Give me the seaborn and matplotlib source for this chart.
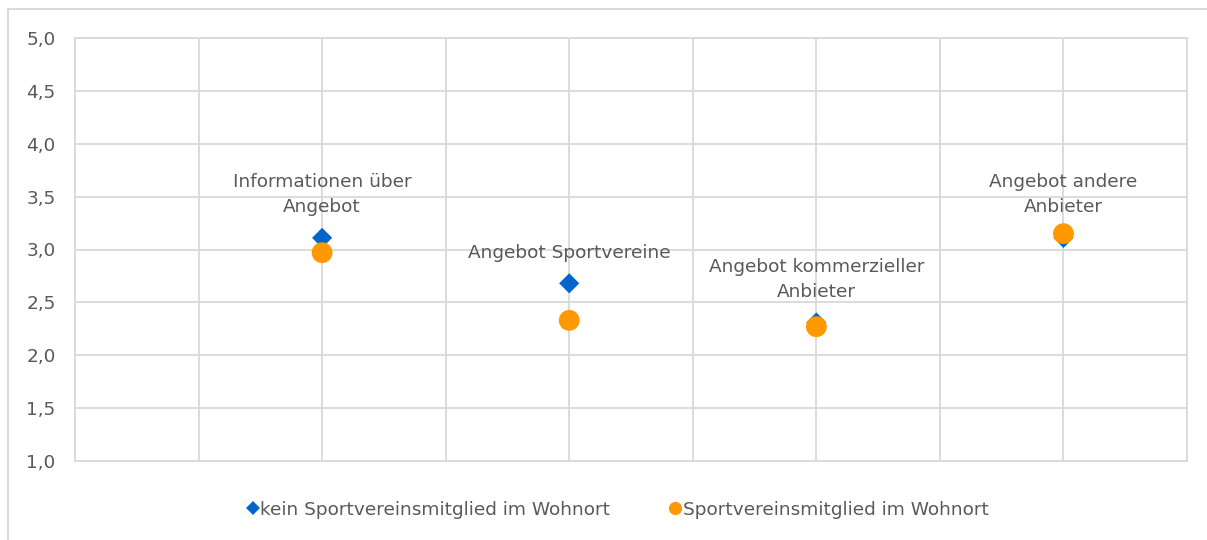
import matplotlib
matplotlib.use("Agg")
import matplotlib.pyplot as plt
from matplotlib.lines import Line2D
import pandas as pd
import seaborn as sns

# Survey items (x positions on a 0..4.5 category axis) and mean ratings
items = ["Informationen über\nAngebot", "Angebot Sportvereine",
         "Angebot kommerzieller\nAnbieter", "Angebot andere\nAnbieter"]
positions = [1, 2, 3, 4]
non_members = [3.11, 2.68, 2.31, 3.11]
members = [2.97, 2.33, 2.27, 3.15]
series_names = ["kein Sportvereinsmitglied im Wohnort",
                "Sportvereinsmitglied im Wohnort"]
y_ticks = [1.0, 1.5, 2.0, 2.5, 3.0, 3.5, 4.0, 4.5, 5.0]

blue = "#0066CC"
orange = "#FF9900"
text_col = "#595959"
grid_col = "#D9D9D9"
fs = 13.3

sns.set_theme(style="white")
plt.rcParams["font.family"] = ["DejaVu Sans"]

df = pd.DataFrame({
    "pos": positions * 2,
    "wert": non_members + members,
    "gruppe": [series_names[0]] * 4 + [series_names[1]] * 4,
})

fig = plt.figure(figsize=(12.07, 5.40), dpi=100)
ax = fig.add_axes([75 / 1207, 1 - 461 / 540, (1187 - 75) / 1207, (461 - 38) / 540])

sns.scatterplot(data=df[df.gruppe == series_names[0]], x="pos", y="wert",
                marker="D", s=105, color=blue, edgecolor="none",
                ax=ax, legend=False, zorder=3)
sns.scatterplot(data=df[df.gruppe == series_names[1]], x="pos", y="wert",
                marker="o", s=225, color=orange, edgecolor="none",
                ax=ax, legend=False, zorder=4)

ax.set_xlim(0, 4.5)
ax.set_ylim(1.0, 5.0)
ax.set_xticks([i * 0.5 for i in range(10)])
ax.set_yticks(y_ticks)
ax.set_yticklabels([f"{v:.1f}".replace(".", ",") for v in y_ticks],
                   fontsize=fs, color=text_col)
ax.tick_params(axis="x", labelbottom=False, length=0)
ax.tick_params(axis="y", length=0, pad=14)
ax.grid(True, color=grid_col, linewidth=1.3)
ax.set_axisbelow(True)
for sp in ax.spines.values():
    sp.set_visible(True)
    sp.set_color(grid_col)
    sp.set_linewidth(1.3)
ax.set_xlabel("")
ax.set_ylabel("")

# Item labels placed above the non-member points
for x, y, lab in zip(positions, non_members, items):
    ax.annotate(lab, (x, y), xytext=(0, 15.5), textcoords="offset points",
                ha="center", va="bottom", fontsize=fs, color=text_col,
                linespacing=1.5, zorder=5)

handles = [
    Line2D([], [], marker="D", color=blue, linestyle="none", markersize=7,
           markeredgewidth=0),
    Line2D([], [], marker="o", color=orange, linestyle="none", markersize=9.5,
           markeredgewidth=0),
]
fig.legend(handles, series_names, loc="center", bbox_to_anchor=(0.512, 0.056),
           ncol=2, frameon=False, fontsize=fs, labelcolor=text_col,
           handlelength=0.6, handletextpad=0.1, columnspacing=3.2)

# Chart-area frame (left and top edges)
fig.add_artist(Line2D([8 / 1207, 8 / 1207], [0, 1 - 9 / 540],
                      transform=fig.transFigure, color=grid_col, linewidth=1.5))
fig.add_artist(Line2D([8 / 1207, 1], [1 - 9 / 540, 1 - 9 / 540],
                      transform=fig.transFigure, color=grid_col, linewidth=1.5))

fig.savefig("out.png", dpi=100, facecolor="white")
